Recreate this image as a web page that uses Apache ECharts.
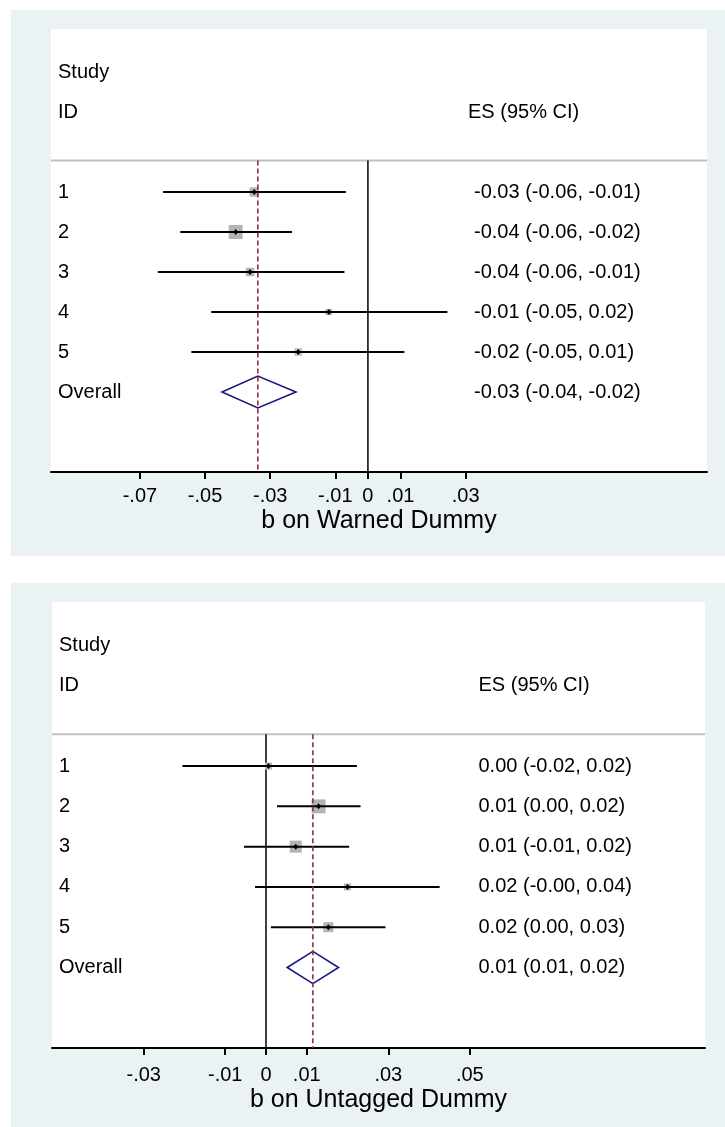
<!DOCTYPE html>
<html><head><meta charset="utf-8">
<script src="https://cdn.jsdelivr.net/npm/echarts@6/dist/echarts.min.js"></script>
<style>html,body{margin:0;padding:0;background:#fff}#c{width:725px;height:1127px}</style>
</head><body><div id="c"></div>
<script>
// ---------- data ----------
const studies = ['1', '2', '3', '4', '5'];
const overallLabel = 'Overall';
const headerStudy = 'Study';
const headerId = 'ID';
const headerES = 'ES (95% CI)';

// Panel 1: b on Warned Dummy
const warnedES = [-0.0349, -0.0406, -0.0362, -0.0120, -0.0214];
const warnedLo = [-0.0629, -0.0576, -0.0645, -0.0481, -0.0542];
const warnedHi = [-0.0068, -0.0233, -0.0072, 0.0244, 0.0112];
const warnedWeight = [19.3, 43.8, 16.1, 9.2, 11.6];
const warnedOverall = { es: -0.0338, lo: -0.0448, hi: -0.0221 };
const warnedText = ['-0.03 (-0.06, -0.01)', '-0.04 (-0.06, -0.02)', '-0.04 (-0.06, -0.01)', '-0.01 (-0.05, 0.02)', '-0.02 (-0.05, 0.01)'];
const warnedOverallText = '-0.03 (-0.04, -0.02)';
const warnedTicks = [-0.07, -0.05, -0.03, -0.01, 0, 0.01, 0.03];
const warnedTickLabels = ['-.07', '-.05', '-.03', '-.01', '0', '.01', '.03'];
const warnedTitle = 'b on Warned Dummy';

// Panel 2: b on Untagged Dummy
const untaggedES = [0.0006, 0.0129, 0.0073, 0.0200, 0.0153];
const untaggedLo = [-0.0205, 0.0027, -0.0054, -0.0027, 0.0012];
const untaggedHi = [0.0223, 0.0232, 0.0204, 0.0426, 0.0293];
const untaggedWeight = [9.1, 36.4, 26.8, 9.1, 18.6];
const untaggedOverall = { es: 0.0115, lo: 0.0052, hi: 0.0178 };
const untaggedText = ['0.00 (-0.02, 0.02)', '0.01 (0.00, 0.02)', '0.01 (-0.01, 0.02)', '0.02 (-0.00, 0.04)', '0.02 (0.00, 0.03)'];
const untaggedOverallText = '0.01 (0.01, 0.02)';
const untaggedTicks = [-0.03, -0.01, 0, 0.01, 0.03, 0.05];
const untaggedTickLabels = ['-.03', '-.01', '0', '.01', '.03', '.05'];
const untaggedTitle = 'b on Untagged Dummy';

// ---------- layout / style ----------
const FONT = '"Liberation Sans", Arial, Helvetica, sans-serif';
const PANEL_BG = '#eaf2f3';
const BOX_COLOR = '#b4b4b4';
const DIAMOND_COLOR = '#1a1a7a';
const DASH_COLOR = '#982b36';
const HEADER_LINE_Y = 2.21;   // row units
const AXIS_ROW = 10;
const FIRST_ROW = 3;
const MAX_BOX = 14;

const panels = [
  { es: warnedES, lo: warnedLo, hi: warnedHi, w: warnedWeight, ov: warnedOverall,
    text: warnedText, ovText: warnedOverallText, ticks: warnedTicks, tickLabels: warnedTickLabels,
    title: warnedTitle, xmin: -0.0973, xmax: 0.1041,
    grid: { left: 51, top: 29, width: 656, height: 443 }, leftCol: 7, esHead: 417, esCol: 423,
    labelMargin: 14, nameGap: 37 },
  { es: untaggedES, lo: untaggedLo, hi: untaggedHi, w: untaggedWeight, ov: untaggedOverall,
    text: untaggedText, ovText: untaggedOverallText, ticks: untaggedTicks, tickLabels: untaggedTickLabels,
    title: untaggedTitle, xmin: -0.0525, xmax: 0.1077,
    grid: { left: 52, top: 602, width: 653, height: 446 }, leftCol: 7, esHead: 426.5, esCol: 426.5,
    labelMargin: 17, nameGap: 40 }
];

const grids = [], xAxes = [], yAxes = [], series = [];

panels.forEach((P, k) => {
  grids.push(Object.assign({ show: true, backgroundColor: '#fff', borderWidth: 0 }, P.grid));
  xAxes.push({
    gridIndex: k, type: 'value', min: P.xmin, max: P.xmax,
    axisLine: { onZero: false, lineStyle: { color: '#000', width: 2 } },
    axisTick: { customValues: P.ticks, length: 7, lineStyle: { color: '#000', width: 2 } },
    axisLabel: {
      customValues: P.ticks, color: '#000', fontSize: 20, fontFamily: FONT, margin: P.labelMargin,
      formatter: v => { const i = P.ticks.findIndex(t => Math.abs(t - v) < 1e-9); return i >= 0 ? P.tickLabels[i] : ''; }
    },
    splitLine: { show: false },
    name: P.title, nameLocation: 'middle', nameGap: P.nameGap,
    nameTextStyle: { color: '#000', fontSize: 25, fontFamily: FONT }
  });
  yAxes.push({ gridIndex: k, type: 'value', inverse: true, min: -1.075, max: AXIS_ROW, show: false });

  const ax = { xAxisIndex: k, yAxisIndex: k };
  const maxW = Math.max(...P.w);

  // header separator line
  series.push(Object.assign({
    type: 'line', silent: true, symbol: 'none', z: 1,
    data: [[P.xmin, HEADER_LINE_Y], [P.xmax, HEADER_LINE_Y]],
    lineStyle: { color: '#c0c0c0', width: 2 }
  }, ax));
  // zero line
  series.push(Object.assign({
    type: 'line', silent: true, symbol: 'none', z: 2,
    data: [[0, HEADER_LINE_Y], [0, AXIS_ROW]],
    lineStyle: { color: '#000', width: 1.5 }
  }, ax));

  // studies: box, CI, point
  series.push(Object.assign({
    type: 'custom', silent: true, z: 3,
    data: P.es.map((e, i) => [e, P.lo[i], P.hi[i], P.w[i], FIRST_ROW + i]),
    encode: { x: [0, 1, 2], y: 4 },
    renderItem: (params, api) => {
      const row = api.value(4);
      const p = api.coord([api.value(0), row]);
      const a = api.coord([api.value(1), row]);
      const b = api.coord([api.value(2), row]);
      const s = MAX_BOX * Math.sqrt(api.value(3) / maxW);
      return { type: 'group', children: [
        { type: 'rect', shape: { x: p[0] - s / 2, y: p[1] - s / 2, width: s, height: s }, style: { fill: BOX_COLOR } },
        { type: 'line', shape: { x1: a[0], y1: a[1], x2: b[0], y2: b[1] }, style: { stroke: '#000', lineWidth: 2 } },
        { type: 'polygon', shape: { points: [[p[0], p[1] - 3], [p[0] + 2.5, p[1]], [p[0], p[1] + 3], [p[0] - 2.5, p[1]]] }, style: { fill: '#000' } }
      ] };
    }
  }, ax));

  // overall diamond
  series.push(Object.assign({
    type: 'custom', silent: true, z: 4,
    data: [[P.ov.es, P.ov.lo, P.ov.hi, FIRST_ROW + studies.length]],
    encode: { x: [0, 1, 2], y: 3 },
    renderItem: (params, api) => {
      const row = api.value(3);
      const l = api.coord([api.value(1), row]);
      const r = api.coord([api.value(2), row]);
      const t = api.coord([api.value(0), row - 0.4]);
      const btm = api.coord([api.value(0), row + 0.4]);
      return { type: 'polygon', shape: { points: [l, t, r, btm] }, style: { fill: 'none', stroke: DIAMOND_COLOR, lineWidth: 1.6 } };
    }
  }, ax));

  // dashed overall line
  series.push(Object.assign({
    type: 'line', silent: true, symbol: 'none', z: 5,
    data: [[P.ov.es, HEADER_LINE_Y], [P.ov.es, AXIS_ROW]],
    lineStyle: { color: DASH_COLOR, width: 1.6, type: [5, 3] }
  }, ax));

  // text columns
  const leftTexts = [headerStudy, headerId].concat(studies, [overallLabel]);
  const leftRows = [0, 1].concat(studies.map((s, i) => FIRST_ROW + i), [FIRST_ROW + studies.length]);
  const rightTexts = [headerES].concat(P.text, [P.ovText]);
  const rightRows = [1].concat(studies.map((s, i) => FIRST_ROW + i), [FIRST_ROW + studies.length]);
  series.push(Object.assign({
    type: 'custom', silent: true, z: 6,
    data: leftRows.map(r => [P.xmin, r]),
    encode: { x: 0, y: 1 },
    renderItem: (params, api) => {
      const c = api.coord([P.xmin, api.value(1)]);
      return { type: 'text', style: { text: leftTexts[params.dataIndex], x: c[0] + P.leftCol, y: c[1],
        fill: '#000', font: '20px ' + FONT, textAlign: 'left', textVerticalAlign: 'middle' } };
    }
  }, ax));
  series.push(Object.assign({
    type: 'custom', silent: true, z: 6,
    data: rightRows.map(r => [P.xmin, r]),
    encode: { x: 0, y: 1 },
    renderItem: (params, api) => {
      const c = api.coord([P.xmin, api.value(1)]);
      const off = params.dataIndex === 0 ? P.esHead : P.esCol;
      return { type: 'text', style: { text: rightTexts[params.dataIndex], x: c[0] + off, y: c[1],
        fill: '#000', font: '20px ' + FONT, textAlign: 'left', textVerticalAlign: 'middle' } };
    }
  }, ax));
});

const chart = echarts.init(document.getElementById('c'), null, { renderer: 'canvas' });
chart.setOption({
  animation: false,
  backgroundColor: '#fff',
  graphic: [
    { type: 'rect', z: -10, shape: { x: 11, y: 10, width: 714, height: 546 }, style: { fill: PANEL_BG } },
    { type: 'rect', z: -10, shape: { x: 11, y: 583, width: 714, height: 544 }, style: { fill: PANEL_BG } }
  ],
  grid: grids, xAxis: xAxes, yAxis: yAxes, series: series
});
</script>
</body></html>
